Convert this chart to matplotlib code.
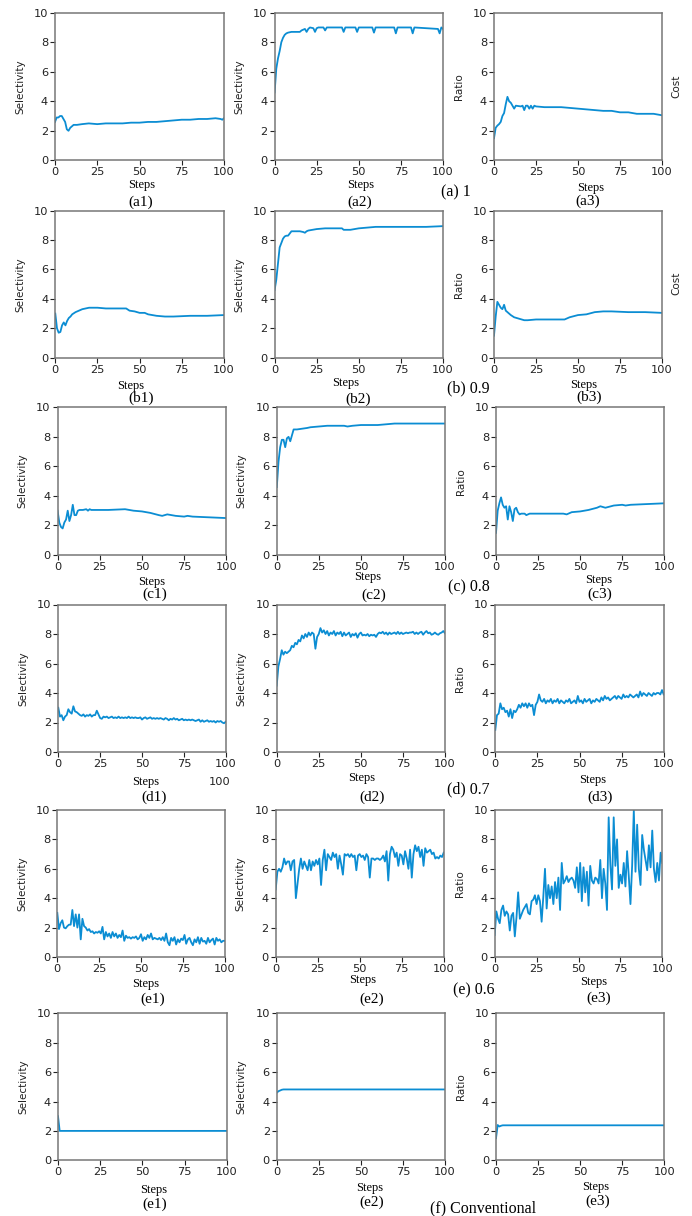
import matplotlib
matplotlib.use('Agg')
import matplotlib.pyplot as plt

# ---- data ----
steps = list(range(101))

# row (a) 1
a1_x = [0, 1, 2, 3, 4, 5, 6, 7, 8, 9, 10, 11, 13, 16, 20, 25, 30, 40, 45, 50, 55, 60, 65, 70, 75, 80, 85, 90, 95, 98, 99, 100]
a1_y = [2.6, 2.9, 2.9, 3.0, 3.0, 2.8, 2.6, 2.1, 2.0, 2.2, 2.3, 2.4, 2.4, 2.45, 2.5, 2.45, 2.5, 2.5, 2.55, 2.55, 2.6, 2.6, 2.65, 2.7, 2.75, 2.75, 2.8, 2.8, 2.85, 2.8, 2.75, 2.85]
a2_x = [0, 1, 2, 3, 4, 5, 6, 7, 8, 10, 15, 16, 17, 18, 19, 20, 21, 23, 24, 25, 26, 29, 30, 31, 40, 41, 42, 48, 49, 50, 58, 59, 60, 71, 72, 73, 81, 82, 83, 97, 98, 99, 100]
a2_y = [4.6, 6.2, 6.9, 7.4, 8.0, 8.3, 8.5, 8.6, 8.65, 8.7, 8.7, 8.8, 8.85, 8.9, 8.7, 8.9, 9.0, 8.95, 8.7, 8.95, 9.0, 9.0, 8.8, 9.0, 9.0, 8.7, 9.0, 9.0, 8.7, 9.0, 9.0, 8.65, 9.0, 9.0, 8.6, 9.0, 9.0, 8.6, 9.0, 8.9, 8.6, 9.0, 8.9]
a3_x = [0, 1, 2, 3, 4, 5, 6, 7, 8, 9, 10, 11, 12, 13, 16, 17, 18, 19, 20, 21, 22, 23, 24, 25, 30, 40, 45, 50, 55, 60, 65, 70, 75, 80, 85, 90, 95, 100]
a3_y = [1.5, 2.2, 2.35, 2.45, 2.6, 3.0, 3.2, 3.8, 4.3, 4.0, 3.9, 3.7, 3.5, 3.7, 3.65, 3.7, 3.4, 3.7, 3.7, 3.5, 3.7, 3.5, 3.7, 3.65, 3.6, 3.6, 3.55, 3.5, 3.45, 3.4, 3.35, 3.35, 3.25, 3.25, 3.15, 3.15, 3.15, 3.05]

# row (b) 0.9
b1_x = [0, 1, 2, 3, 4, 5, 6, 7, 8, 9, 10, 12, 14, 16, 18, 20, 25, 30, 35, 40, 42, 44, 47, 50, 53, 55, 60, 65, 70, 80, 90, 100]
b1_y = [3.0, 2.0, 1.7, 1.75, 2.2, 2.4, 2.2, 2.5, 2.7, 2.8, 2.95, 3.1, 3.2, 3.3, 3.35, 3.4, 3.4, 3.35, 3.35, 3.35, 3.35, 3.2, 3.15, 3.05, 3.05, 2.95, 2.85, 2.8, 2.8, 2.85, 2.85, 2.9]
b2_x = [0, 1, 2, 3, 4, 5, 6, 7, 8, 9, 10, 12, 15, 17, 18, 19, 20, 25, 30, 35, 40, 41, 45, 50, 55, 60, 70, 80, 90, 100]
b2_y = [4.6, 5.3, 6.4, 7.5, 7.8, 8.1, 8.25, 8.3, 8.3, 8.45, 8.6, 8.6, 8.6, 8.55, 8.5, 8.6, 8.65, 8.75, 8.8, 8.8, 8.8, 8.7, 8.7, 8.8, 8.85, 8.9, 8.9, 8.9, 8.9, 8.95]
b3_x = [0, 1, 2, 3, 4, 5, 6, 7, 8, 9, 10, 12, 15, 18, 20, 25, 30, 35, 40, 42, 45, 50, 55, 60, 65, 70, 80, 90, 100]
b3_y = [1.5, 2.8, 3.8, 3.6, 3.4, 3.3, 3.6, 3.2, 3.1, 3.0, 2.9, 2.75, 2.65, 2.55, 2.55, 2.6, 2.6, 2.6, 2.6, 2.6, 2.75, 2.9, 2.95, 3.1, 3.15, 3.15, 3.1, 3.1, 3.05]

# row (c) 0.8
c1_x = [0, 1, 2, 3, 4, 5, 6, 7, 8, 9, 10, 11, 12, 13, 15, 17, 18, 19, 20, 25, 30, 40, 45, 50, 55, 60, 62, 65, 70, 75, 77, 80, 90, 100]
c1_y = [3.0, 2.2, 1.9, 1.8, 2.2, 2.4, 3.0, 2.3, 2.7, 3.4, 2.7, 2.7, 3.0, 3.05, 3.05, 3.1, 3.0, 3.1, 3.05, 3.05, 3.05, 3.1, 3.0, 2.95, 2.85, 2.7, 2.65, 2.75, 2.65, 2.6, 2.65, 2.6, 2.55, 2.5]
c2_x = [0, 1, 2, 3, 4, 5, 6, 7, 8, 9, 10, 12, 15, 18, 20, 25, 30, 40, 42, 45, 50, 60, 65, 70, 80, 90, 100]
c2_y = [4.6, 6.3, 7.3, 7.8, 7.8, 7.3, 7.9, 8.0, 7.7, 8.1, 8.5, 8.5, 8.55, 8.6, 8.65, 8.7, 8.75, 8.75, 8.7, 8.75, 8.8, 8.8, 8.85, 8.9, 8.9, 8.9, 8.9]
c3_x = [0, 1, 2, 3, 4, 5, 6, 7, 8, 9, 10, 11, 12, 13, 14, 15, 17, 18, 20, 25, 30, 40, 42, 45, 50, 55, 60, 62, 65, 70, 75, 77, 80, 90, 100]
c3_y = [1.5, 3.0, 3.5, 3.9, 3.4, 3.2, 3.3, 2.4, 3.3, 2.9, 2.3, 3.1, 3.2, 2.9, 2.75, 2.8, 2.8, 2.7, 2.8, 2.8, 2.8, 2.8, 2.75, 2.9, 2.95, 3.05, 3.2, 3.3, 3.2, 3.35, 3.4, 3.35, 3.4, 3.45, 3.5]

# row (d) 0.7
d1_y = [3.0, 2.4, 2.5, 2.15, 2.4, 2.5, 2.9, 2.7, 2.6, 3.1,
        2.75, 2.7, 2.6, 2.5, 2.45, 2.55, 2.4, 2.5, 2.45, 2.55,
        2.4, 2.5, 2.5, 2.8, 2.55, 2.3, 2.25, 2.4, 2.35, 2.4,
        2.3, 2.35, 2.4, 2.3, 2.35, 2.3, 2.4, 2.3, 2.35, 2.3,
        2.35, 2.3, 2.4, 2.3, 2.35, 2.3, 2.35, 2.3, 2.3, 2.35,
        2.2, 2.3, 2.35, 2.25, 2.3, 2.35, 2.25, 2.3, 2.25, 2.3,
        2.25, 2.3, 2.25, 2.2, 2.3, 2.25, 2.15, 2.25, 2.2, 2.3,
        2.2, 2.25, 2.15, 2.2, 2.25, 2.15, 2.2, 2.15, 2.2, 2.15,
        2.2, 2.15, 2.1, 2.15, 2.2, 2.05, 2.15, 2.05, 2.1, 2.15,
        2.05, 2.1, 2.05, 2.1, 2.0, 2.1, 2.05, 2.1, 2.0, 1.95,
        2.05]
d2_y = [4.5, 5.8, 6.3, 6.9, 6.6, 6.8, 6.7, 6.8, 6.9, 7.2,
        7.1, 7.4, 7.3, 7.6, 7.5, 7.9, 7.7, 8.0, 7.8, 8.1,
        7.9, 8.1, 8.0, 7.0, 7.8, 8.0, 8.4, 8.1, 8.25, 8.0,
        8.2, 7.9, 8.1, 8.0, 8.2, 7.9, 8.1, 8.0, 8.15, 7.85,
        8.1, 7.9, 8.0, 8.1, 7.8, 8.0, 7.9, 8.05, 7.75, 8.0,
        8.1, 7.9, 7.95, 7.9, 8.0, 7.85, 7.95, 7.9, 7.95, 7.8,
        8.0, 8.1, 8.05, 8.15, 8.0, 8.1, 7.95, 8.1, 8.0, 8.05,
        8.1, 8.0, 8.15, 8.0, 8.1, 8.0, 8.05, 8.1, 8.05, 8.1,
        8.1, 8.15, 8.0, 8.1, 8.0, 8.1, 8.15, 7.95, 8.1, 8.2,
        8.05, 8.1, 7.95, 8.0, 8.1, 8.0, 7.95, 8.05, 8.1, 8.2,
        8.05]
d3_y = [1.5, 2.5, 2.6, 3.3, 2.9, 3.0, 2.7, 2.8, 2.4, 2.9,
        2.3, 2.8, 2.7, 2.9, 3.2, 3.0, 3.3, 3.1, 3.3, 3.0,
        3.3, 3.1, 3.2, 2.5, 3.2, 3.4, 3.9, 3.5, 3.4, 3.6,
        3.3, 3.5, 3.4, 3.6, 3.3, 3.5, 3.4, 3.6, 3.3, 3.5,
        3.4, 3.3, 3.5, 3.4, 3.6, 3.3, 3.4, 3.5, 3.3, 3.8,
        3.4, 3.5, 3.3, 3.6, 3.4, 3.5, 3.6, 3.3, 3.5, 3.4,
        3.6, 3.5, 3.4, 3.7, 3.5, 3.8, 3.6, 3.7, 3.5, 3.6,
        3.7, 3.8, 3.6, 3.8, 3.7, 3.6, 3.9, 3.7, 3.8, 3.7,
        3.9, 3.8, 3.7, 3.8, 3.9, 3.7, 4.1, 3.8, 4.0, 3.9,
        3.8, 4.0, 3.9, 3.8, 4.0, 3.9, 4.0, 4.0, 3.9, 4.2,
        3.9]

# row (e) 0.6
e1_y = [3.0, 1.9, 2.3, 2.5, 2.0, 1.95, 2.1, 2.2, 2.2, 3.2,
        2.1, 2.9, 2.0, 2.9, 1.2, 2.6, 2.1, 2.0, 1.8, 1.9,
        1.7, 1.75, 1.6, 1.7, 1.65, 1.75, 1.6, 2.05, 1.2, 1.7,
        1.4, 1.6, 1.3, 1.7, 1.4, 1.6, 1.3, 1.5, 1.35, 1.8,
        1.1, 1.45, 1.3, 1.35, 1.25, 1.35, 1.3, 1.4, 1.2, 1.3,
        1.55, 1.1, 1.35, 1.2, 1.5, 1.3, 1.6, 1.2, 1.3, 1.25,
        1.2, 1.3, 1.15, 1.35, 1.1, 1.6, 1.0, 0.8, 1.3, 1.1,
        1.35, 0.85, 1.2, 1.0, 1.25, 1.15, 1.5, 0.9, 1.2, 1.3,
        1.0, 0.8, 1.2, 1.0, 1.35, 0.9, 1.3, 1.05, 1.1, 0.9,
        1.3, 1.0, 1.15, 1.25, 0.85, 1.3, 1.1, 1.2, 1.0, 1.1,
        1.1]
e2_y = [4.6, 5.8, 6.0, 5.8, 6.1, 6.7, 6.3, 6.5, 6.5, 5.9,
        6.5, 6.6, 4.0, 5.0, 6.0, 6.7, 6.0, 6.5, 6.2, 5.9,
        6.6, 5.9, 6.5, 6.2, 6.6, 6.3, 6.7, 4.9, 6.6, 7.3,
        5.9, 7.0, 6.8, 6.6, 7.1, 6.8, 7.0, 6.0, 6.9, 6.3,
        5.6, 7.0, 6.9, 7.0, 6.8, 7.0, 6.8, 6.9, 5.9, 6.9,
        7.0, 6.8, 6.9, 6.6, 7.0, 6.8, 5.4, 6.7, 6.7, 6.6,
        6.7, 6.7, 6.6, 6.7, 6.9, 6.5, 7.2, 5.2, 7.0, 7.5,
        7.3, 6.8, 7.1, 6.2, 7.0, 6.9, 6.3, 7.2, 6.7, 6.0,
        7.3, 5.4, 7.0, 7.6, 7.2, 7.5, 6.8, 7.3, 6.2, 7.4,
        7.1, 7.2, 7.3, 7.0, 7.1, 6.7, 6.8, 6.7, 6.9, 6.8,
        7.1]
e3_y = [1.5, 3.1, 2.6, 2.3, 3.2, 3.5, 2.8, 3.1, 2.9, 1.8,
        2.8, 3.0, 1.4, 2.7, 4.4, 2.6, 2.9, 3.2, 3.4, 3.6,
        3.0, 2.9, 3.8, 3.9, 4.2, 3.6, 4.2, 3.8, 2.4, 4.1,
        6.0, 3.3, 4.9, 4.0, 4.8, 3.6, 5.1, 4.0, 5.4, 3.2,
        6.4, 5.0, 5.2, 5.5, 5.1, 5.3, 5.4, 5.2, 4.7, 6.1,
        4.4, 6.4, 3.8, 6.1, 4.4, 5.8, 3.5, 6.2, 5.2, 5.0,
        5.4, 5.3, 5.0, 6.6, 4.0, 6.0, 5.0, 3.2, 9.5, 6.3,
        4.6, 9.5, 6.2, 8.0, 4.7, 5.6, 5.0, 6.4, 4.8, 7.2,
        5.5, 3.6, 6.2, 10.0, 5.8, 9.0, 6.0, 4.9, 8.3, 7.3,
        6.6, 5.9, 7.6, 6.1, 8.6, 6.0, 5.1, 6.4, 5.2, 7.1,
        6.4]

# row (f) Conventional
f1_x = [0, 1, 2, 100]
f1_y = [3.0, 2.0, 2.0, 2.0]
f2_x = [0, 1, 2, 3, 4, 100]
f2_y = [4.6, 4.7, 4.75, 4.8, 4.82, 4.82]
f3_x = [0, 1, 2, 3, 4, 100]
f3_y = [1.5, 2.4, 2.3, 2.35, 2.38, 2.38]

series = [
    [(a1_x, a1_y), (a2_x, a2_y), (a3_x, a3_y)],
    [(b1_x, b1_y), (b2_x, b2_y), (b3_x, b3_y)],
    [(c1_x, c1_y), (c2_x, c2_y), (c3_x, c3_y)],
    [(steps, d1_y), (steps, d2_y), (steps, d3_y)],
    [(steps, e1_y), (steps, e2_y), (steps, e3_y)],
    [(f1_x, f1_y), (f2_x, f2_y), (f3_x, f3_y)],
]
panel_names = [['(a1)', '(a2)', '(a3)'], ['(b1)', '(b2)', '(b3)'], ['(c1)', '(c2)', '(c3)'],
               ['(d1)', '(d2)', '(d3)'], ['(e1)', '(e2)', '(e3)'], ['(e1)', '(e2)', '(e3)']]
row_titles = ['(a) 1', '(b) 0.9', '(c) 0.8', '(d) 0.7', '(e) 0.6', '(f) Conventional']
ylabels = ['Selectivity', 'Selectivity', 'Ratio']

# ---- layout (pixels of the 692x1216 picture) ----
W, H = 692, 1216
fig = plt.figure(figsize=(W / 100, H / 100), dpi=100)

# (left, top, right, bottom) per panel
boxes = [
    [(55, 12.7, 224, 160.3), (274.6, 12.7, 443, 160.3), (494, 12.7, 662, 160.3)],
    [(55.3, 210.7, 224, 357.7), (274.6, 210.7, 443, 357.7), (494, 210.7, 662, 357.7)],
    [(57.6, 407.3, 226.3, 555), (276.8, 407.3, 445, 555), (496, 407.3, 664.3, 555)],
    [(58.3, 604.5, 225.7, 752), (276.7, 604.5, 445, 752), (495.3, 604.5, 663.7, 752)],
    [(57.3, 810, 224.7, 957), (275.7, 810, 443.7, 957), (494.7, 810, 662.3, 957)],
    [(58, 1013.3, 226.7, 1160.3), (276.8, 1013.3, 445, 1160.3), (496, 1013.3, 664.3, 1160.3)],
]
steps_pos = [
    [(141.7, 185), (361, 185), (591, 188)],
    [(130.6, 386.5), (346, 382.5), (583.7, 385)],
    [(152, 581.5), (368, 577), (598.8, 579.5)],
    [(146, 781.5), (362, 778), (592.6, 780)],
    [(146, 984.5), (363, 980.5), (593.4, 982)],
    [(153.7, 1189.5), (369.8, 1187.5), (595.7, 1187)],
]
name_pos = [
    [(141, 202), (360, 202), (588, 201.7)],
    [(140.8, 398.3), (357.8, 399), (589, 397.3)],
    [(155, 594.3), (373.3, 595), (600, 594.3)],
    [(154, 797), (372, 797), (600, 797)],
    [(152.8, 999.3), (372, 999), (598.8, 998)],
    [(155, 1204), (372, 1202.7), (597.9, 1201.3)],
]
title_pos = [(456, 192), (468.6, 388.3), (468.6, 587.7), (468.6, 789), (474, 990), (482.7, 1208.7)]

serif = 'Liberation Serif'
line_color = '#0b8dd3'


def px_text(x, y, s, **kw):
    fig.text(x / W, 1 - y / H, s, ha='center', va='center', **kw)


for r in range(6):
    for c in range(3):
        l, t, rr, b = boxes[r][c]
        ax = fig.add_axes([l / W, 1 - b / H, (rr - l) / W, (b - t) / H])
        xs, ys = series[r][c]
        ax.plot(xs, ys, color=line_color, lw=1.3)
        ax.set_xlim(0, 100)
        ax.set_ylim(0, 10)
        ax.set_xticks([0, 25, 50, 75, 100])
        ax.set_yticks([0, 2, 4, 6, 8, 10])
        ax.tick_params(labelsize=8.2, length=3.5, width=0.8, pad=1.5, colors='#222222')
        for sp in ax.spines.values():
            sp.set_color('#777777')
            sp.set_linewidth(1.1)
        px_text(l - 35, (t + b) / 2, ylabels[c], rotation=90, fontsize=7.5, color='#222222')
        px_text(*steps_pos[r][c], 'Steps', family=serif, fontsize=9)
        px_text(*name_pos[r][c], panel_names[r][c], family=serif, fontsize=11)
    px_text(*title_pos[r], row_titles[r], family=serif, fontsize=11.5)

px_text(676, 86.7, 'Cost', rotation=90, fontsize=7.5, color='#222222')
px_text(676, 283, 'Cost', rotation=90, fontsize=7.5, color='#222222')
px_text(220, 782.3, '100', fontsize=8.2, color='#222222')

fig.savefig('out.png', dpi=100)
